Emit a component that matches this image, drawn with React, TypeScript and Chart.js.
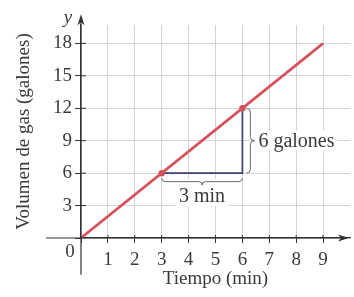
import { useEffect, useRef } from 'react';
import { Chart, registerables } from 'chart.js';

Chart.register(...registerables);

// ---- data ----
const lineX = [0, 9];
const lineY = [0, 18];
const pointX = [3, 6];
const pointY = [6, 12];
const stepX = [3, 6, 6];
const stepY = [6, 6, 12];
const xTicks = [0, 1, 2, 3, 4, 5, 6, 7, 8, 9];
const yTicks = [0, 3, 6, 9, 12, 15, 18];
const xRange = [0, 10];
const yRange = [0, 19.7];
const axisTail = { x: -1.3, y: -3.4 };
const yAxisTip = 20.7;
const xLabel = 'Tiempo (min)';
const yLabel = 'Volumen de gas (galones)';
const runLabel = '3 min';
const riseLabel = '6 galones';
const runSpan = [3, 6];
const riseSpan = [6, 12];

const FONT = "'Liberation Serif', 'Times New Roman', serif";
const TEXT = '#3a3a3a';
const GRID = '#d4d4d4';
const AXIS = '#333333';
const RED = '#d6505c';
const BLUE = '#3d3f7c';
const BRACE = '#6a6a6a';

function hBrace(ctx: CanvasRenderingContext2D, x1: number, x2: number, yTop: number, depth: number) {
  const xm = (x1 + x2) / 2;
  const r = depth / 2;
  ctx.beginPath();
  ctx.moveTo(x1, yTop);
  ctx.quadraticCurveTo(x1, yTop + r, x1 + r, yTop + r);
  ctx.lineTo(xm - r, yTop + r);
  ctx.quadraticCurveTo(xm, yTop + r, xm, yTop + depth);
  ctx.quadraticCurveTo(xm, yTop + r, xm + r, yTop + r);
  ctx.lineTo(x2 - r, yTop + r);
  ctx.quadraticCurveTo(x2, yTop + r, x2, yTop);
  ctx.stroke();
}

function vBrace(ctx: CanvasRenderingContext2D, y1: number, y2: number, xLeft: number, depth: number) {
  const ym = (y1 + y2) / 2;
  const r = depth / 2;
  ctx.beginPath();
  ctx.moveTo(xLeft, y1);
  ctx.quadraticCurveTo(xLeft + r, y1, xLeft + r, y1 + r);
  ctx.lineTo(xLeft + r, ym - r);
  ctx.quadraticCurveTo(xLeft + r, ym, xLeft + depth, ym);
  ctx.quadraticCurveTo(xLeft + r, ym, xLeft + r, ym + r);
  ctx.lineTo(xLeft + r, y2 - r);
  ctx.quadraticCurveTo(xLeft + r, y2, xLeft, y2);
  ctx.stroke();
}

const decor = {
  id: 'decor',
  afterDraw(chart: any) {
    const { ctx, scales } = chart;
    const x = scales.x;
    const y = scales.y;
    const ox = x.getPixelForValue(0);
    const oy = y.getPixelForValue(0);
    ctx.save();
    ctx.strokeStyle = AXIS;
    ctx.fillStyle = AXIS;
    ctx.lineWidth = 1.2;
    // axis extensions
    const xTip = x.getPixelForValue(xRange[1]) - 1;
    const yTip = y.getPixelForValue(yAxisTip);
    ctx.beginPath();
    ctx.moveTo(x.getPixelForValue(axisTail.x), oy);
    ctx.lineTo(xTip - 6, oy);
    ctx.moveTo(ox, y.getPixelForValue(axisTail.y));
    ctx.lineTo(ox, yTip + 6);
    ctx.stroke();
    // arrows
    ctx.beginPath();
    ctx.moveTo(xTip, oy);
    ctx.lineTo(xTip - 11, oy - 3.5);
    ctx.lineTo(xTip - 8, oy);
    ctx.lineTo(xTip - 11, oy + 3.5);
    ctx.closePath();
    ctx.fill();
    ctx.beginPath();
    ctx.moveTo(ox, yTip);
    ctx.lineTo(ox - 3.5, yTip + 11);
    ctx.lineTo(ox, yTip + 8);
    ctx.lineTo(ox + 3.5, yTip + 11);
    ctx.closePath();
    ctx.fill();
    // inner tick parts
    ctx.lineWidth = 1;
    ctx.beginPath();
    xTicks.forEach((v) => {
      if (v === 0) return;
      const px = x.getPixelForValue(v);
      ctx.moveTo(px, oy);
      ctx.lineTo(px, oy - 3);
    });
    yTicks.forEach((v) => {
      if (v === 0) return;
      const py = y.getPixelForValue(v);
      ctx.moveTo(ox, py);
      ctx.lineTo(ox + 5, py);
    });
    ctx.stroke();

    // braces and labels
    const font = `20px ${FONT}`;
    ctx.font = font;
    const rx1 = x.getPixelForValue(runSpan[0]);
    const rx2 = x.getPixelForValue(runSpan[1]);
    const ry = y.getPixelForValue(riseSpan[0]);
    const runTop = ry + 5;
    const runMid = (rx1 + rx2) / 2;
    const runW = ctx.measureText(runLabel).width;
    ctx.fillStyle = '#ffffff';
    ctx.fillRect(rx1 + 1, runTop + 1, rx2 - rx1 - 2, 7);
    ctx.fillRect(runMid - runW / 2 - 3, runTop + 8, runW + 6, 20);
    ctx.strokeStyle = BRACE;
    ctx.lineWidth = 1;
    hBrace(ctx, rx1, rx2, runTop, 7);
    ctx.fillStyle = TEXT;
    ctx.textAlign = 'center';
    ctx.textBaseline = 'middle';
    ctx.fillText(runLabel, runMid, runTop + 19);

    const vx = x.getPixelForValue(runSpan[1]);
    const vy1 = y.getPixelForValue(riseSpan[1]);
    const vy2 = y.getPixelForValue(riseSpan[0]);
    const braceLeft = vx + 4;
    const riseMid = (vy1 + vy2) / 2;
    const riseW = ctx.measureText(riseLabel).width;
    ctx.fillStyle = '#ffffff';
    ctx.fillRect(braceLeft + 9, riseMid - 10, riseW + 6, 20);
    ctx.strokeStyle = BRACE;
    vBrace(ctx, vy1, vy2, braceLeft, 8);
    ctx.fillStyle = TEXT;
    ctx.textAlign = 'left';
    ctx.fillText(riseLabel, braceLeft + 12, riseMid + 1);

    // axis letter and origin label
    ctx.font = `italic 19px ${FONT}`;
    ctx.textAlign = 'center';
    ctx.fillText('y', ox - 13, yTip + 4);
    ctx.font = `19px ${FONT}`;
    ctx.fillText('0', ox - 11, oy + 14);
    ctx.restore();
  },
};

export default function App() {
  const ref = useRef<HTMLCanvasElement>(null);
  useEffect(() => {
    document.body.style.margin = '0';
    const canvas = ref.current!;
    const tickFont = { family: FONT, size: 19, lineHeight: 1 };
    const chart = new Chart(canvas, {
      type: 'scatter',
      data: {
        datasets: [
          {
            data: pointX.map((v, i) => ({ x: v, y: pointY[i] })),
            backgroundColor: RED,
            borderWidth: 0,
            pointRadius: 3.2,
            order: 0,
          },
          {
            data: lineX.map((v, i) => ({ x: v, y: lineY[i] })),
            showLine: true,
            borderColor: RED,
            borderWidth: 2.6,
            pointRadius: 0,
            order: 1,
          },
          {
            data: stepX.map((v, i) => ({ x: v, y: stepY[i] })),
            showLine: true,
            borderColor: BLUE,
            borderWidth: 1.7,
            pointRadius: 0,
            order: 2,
          },
        ],
      },
      options: {
        responsive: false,
        animation: false,
        devicePixelRatio: 1,
        layout: { padding: { top: 25, right: 0, bottom: 0, left: 0 } },
        plugins: { legend: { display: false }, tooltip: { enabled: false } },
        scales: {
          x: {
            type: 'linear',
            min: xRange[0],
            max: xRange[1],
            afterBuildTicks: (s: any) => {
              s.ticks = xTicks.map((v) => ({ value: v }));
            },
            ticks: {
              callback: (v: any) => (v === 0 ? '' : String(v)),
              font: tickFont,
              color: TEXT,
              padding: 7.5,
              maxRotation: 0,
              autoSkip: false,
            },
            grid: {
              color: (c: any) => (c.tick && c.tick.value === 0 ? 'rgba(0,0,0,0)' : GRID),
              lineWidth: 1,
              tickLength: 5,
              tickColor: AXIS,
            },
            border: { color: AXIS, width: 1.2 },
            title: {
              display: true,
              text: xLabel,
              color: TEXT,
              font: tickFont,
              padding: { top: -7.5, bottom: 8.5 },
            },
          },
          y: {
            type: 'linear',
            min: yRange[0],
            max: yRange[1],
            afterBuildTicks: (s: any) => {
              s.ticks = yTicks.map((v) => ({ value: v }));
            },
            ticks: {
              callback: (v: any) => (v === 0 ? '' : String(v)),
              font: tickFont,
              color: TEXT,
              padding: 3,
              autoSkip: false,
            },
            grid: {
              color: (c: any) => (c.tick && c.tick.value === 0 ? 'rgba(0,0,0,0)' : GRID),
              lineWidth: 1,
              tickLength: 6,
              tickColor: AXIS,
            },
            border: { color: AXIS, width: 1.2 },
            title: {
              display: true,
              text: yLabel,
              color: TEXT,
              font: tickFont,
              padding: { top: 15, bottom: 16 },
            },
          },
        },
      },
      plugins: [decor],
    } as any);
    return () => chart.destroy();
  }, []);
  return (
    <div style={{ width: 354, height: 297, background: '#ffffff' }}>
      <canvas ref={ref} width={354} height={297} style={{ width: 354, height: 297, display: 'block' }} />
    </div>
  );
}
